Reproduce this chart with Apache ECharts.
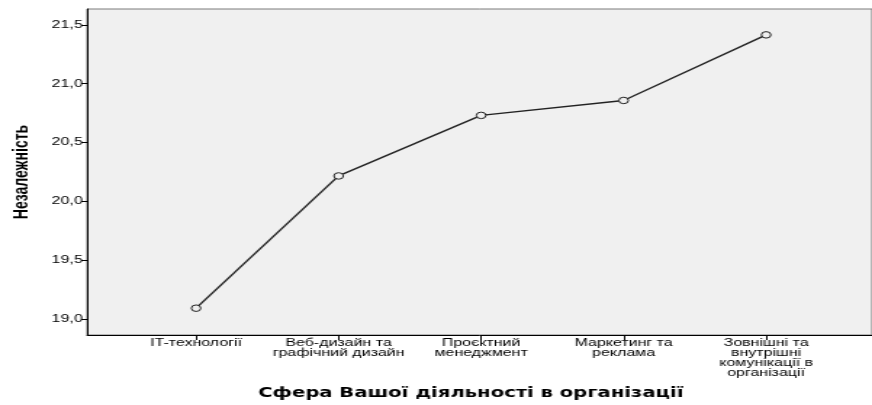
<!DOCTYPE html>
<html>
<head>
<meta charset="utf-8">
<script src="https://cdn.jsdelivr.net/npm/echarts@6/dist/echarts.min.js"></script>
<style>
  html, body { margin: 0; padding: 0; background: #fff; overflow: hidden; }
  /* the reference is a horizontally stretched SPSS plot, so draw narrow and stretch */
  #lineChart {
    width: 601px;
    height: 405px;
    transform: scaleX(1.4509);
    transform-origin: 0 0;
  }
</style>
</head>
<body>
<div id="lineChart"></div>
<script>
// categories along the x axis
const categories = [
  "IT-технології",
  "Веб-дизайн та\nграфічний дизайн",
  "Проєктний\nменеджмент",
  "Маркетинг та\nреклама",
  "Зовнішні та\nвнутрішні\nкомунікації в\nорганізації"
];
// mean values
const meanValues = [19.09, 20.215, 20.73, 20.857, 21.415];
const yTicks = [19.0, 19.5, 20.0, 20.5, 21.0, 21.5];
const xTicks = [0, 1, 2, 3, 4];

const chart = echarts.init(document.getElementById("lineChart"));

chart.setOption({
  animation: false,
  textStyle: { fontFamily: "Liberation Sans, Arial, sans-serif" },
  grid: {
    left: 59.3,
    top: 9,
    right: -4,
    height: 328,
    show: true,
    backgroundColor: "#f0f0f0",
    borderColor: "#7a7a7a",
    borderWidth: 1
  },
  xAxis: {
    type: "value",
    min: -0.765,
    max: 4.743,
    name: "Сфера Вашої діяльності в організації",
    nameLocation: "middle",
    nameGap: 51,
    nameTextStyle: {
      fontSize: 13.5,
      fontWeight: "bold",
      color: "#000",
      fontFamily: "DejaVu Sans, sans-serif",
      padding: [0, 12, 0, 0]
    },
    splitLine: { show: false },
    axisLine: { show: true, onZero: false, lineStyle: { color: "#000", width: 1 } },
    axisTick: {
      show: true,
      length: 5,
      customValues: xTicks,
      lineStyle: { color: "#000" }
    },
    axisLabel: {
      customValues: xTicks,
      formatter: (v) => categories[Math.round(v)] || "",
      fontSize: 11,
      lineHeight: 10,
      color: "#000",
      margin: 3,
      align: "center"
    }
  },
  yAxis: {
    type: "value",
    min: 18.862,
    max: 21.635,
    name: "Незалежність",
    nameLocation: "middle",
    nameGap: 38,
    nameTextStyle: {
      fontSize: 14,
      fontWeight: "bold",
      color: "#000"
    },
    splitLine: { show: false },
    axisLine: { show: true, onZero: false, lineStyle: { color: "#000", width: 1 } },
    axisTick: {
      show: true,
      length: 4,
      customValues: yTicks,
      lineStyle: { color: "#000" }
    },
    axisLabel: {
      customValues: yTicks,
      formatter: (v) => v.toFixed(1).replace(".", ","),
      fontSize: 11,
      color: "#000",
      margin: 3
    }
  },
  series: [
    {
      type: "line",
      data: meanValues.map((v, i) => [i, v]),
      symbol: "circle",
      symbolSize: 6.5,
      itemStyle: { color: "#f0f0f0", borderColor: "#222", borderWidth: 1 },
      lineStyle: { color: "#222", width: 1.4 }
    }
  ]
});
</script>
</body>
</html>
